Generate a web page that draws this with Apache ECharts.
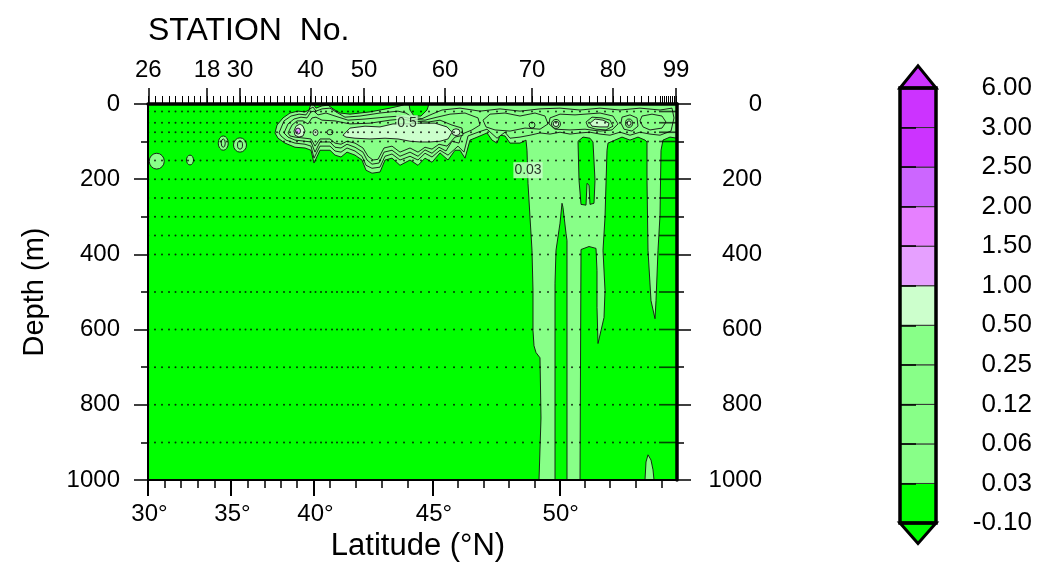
<!DOCTYPE html>
<html>
<head>
<meta charset="utf-8">
<script src="https://cdn.jsdelivr.net/npm/echarts@6/dist/echarts.min.js"></script>
<style>
  html, body { margin: 0; padding: 0; background: #fff; }
  #chart { width: 1044px; height: 566px; }
</style>
</head>
<body>
<div id="chart"></div>
<script>
// ---------------------------------------------------------------
// Section geometry: along-section distance (km) vs depth (m)
// ---------------------------------------------------------------
const sectionLength = 2116;

// Latitude graticule and its along-section distance
const latTicks    = [30, 31, 32, 33, 34, 35, 36, 37, 38, 39, 40, 41, 42, 43, 44, 45, 46, 47, 48, 49, 50, 51, 52, 53, 54];
const latTickDist = [0, 66, 132, 198, 266, 332, 398, 466, 531, 595, 664, 728, 831, 935, 1038, 1138, 1238, 1341, 1444, 1545, 1645, 1745, 1848, 1952, 2054];

// Labelled stations and all occupied stations
const stationLabels    = ['26', '18', '30', '40', '50', '60', '70', '80', '99'];
const stationLabelDist = [1, 236, 368, 650, 864, 1188, 1536, 1860, 2112];
const stationDist = [
  1, 28, 56, 84, 110, 136, 160, 184, 210, 236, 262, 290, 316, 342, 368,
  390, 412, 436, 464, 488, 516, 544, 568, 596, 624, 650,
  670, 692, 712, 736, 756, 776, 800, 820, 840, 864,
  896, 928, 960, 992, 1024, 1060, 1092, 1124, 1156, 1188,
  1224, 1256, 1292, 1328, 1360, 1396, 1432, 1468, 1500, 1536,
  1568, 1600, 1632, 1664, 1696, 1728, 1764, 1796, 1828, 1860,
  1888, 1916, 1944, 1972, 2000, 2028, 2048, 2056, 2064, 2072, 2080, 2088, 2096, 2104, 2112
];
// Bottle / sampling depths (m)
const sampleDepths = [20, 50, 75, 100, 150, 200, 250, 300, 350, 400, 500, 600, 700, 800, 900];

// Contour levels and fill colours of each interval
const levels      = [-0.10, 0.03, 0.06, 0.12, 0.25, 0.50, 1.00, 1.50, 2.00, 2.50, 3.00, 6.00];
const levelColors = ['#00ff00', '#88ff88', '#88ff88', '#88ff88', '#88ff88', '#ccffcc',
                     '#e6a0ff', '#e680ff', '#cc66ff', '#cc33ff', '#cc33ff'];

// ---------------------------------------------------------------
// Closed isolines, vertices as [distance km, depth m]
// ---------------------------------------------------------------
const iso003 = [
  [[508,77],[516,56],[540,37],[568,24],[600,19],[628,21],[644,16],[652,0],[660,0],[672,11],[696,5],[720,3],
   [740,13],[768,24],[808,27],[848,24],[888,21],[928,16],[968,11],[1008,5],[1032,0],[2116,0],[2116,91],
   [2088,88],[2060,96],[2052,123],[2048,296],[2040,389],[2032,523],[2028,571],[2012,523],[2000,389],
   [1996,203],[1996,101],[1988,96],[1960,88],[1928,96],[1896,88],[1868,96],[1840,104],[1836,123],
   [1828,301],[1820,389],[1828,496],[1824,568],[1800,637],[1796,541],[1796,443],[1792,384],[1764,379],
   [1732,387],[1728,1000],[1676,1000],[1676,363],[1672,344],[1660,275],[1656,264],[1648,317],[1632,389],
   [1628,477],[1628,1000],[1564,1000],[1572,835],[1568,675],[1552,661],[1544,643],[1540,603],[1540,496],
   [1536,389],[1528,301],[1520,211],[1516,123],[1512,96],[1488,104],[1448,104],[1428,85],[1408,83],
   [1396,104],[1376,96],[1356,77],[1328,85],[1288,96],[1268,144],[1248,123],[1228,123],[1200,149],
   [1168,130],[1136,155],[1108,144],[1080,163],[1048,149],[1008,163],[976,144],[948,149],[928,181],
   [896,184],[872,176],[856,149],[828,136],[796,128],[772,141],[748,136],[728,123],[688,123],[664,157],
   [652,123],[628,117],[588,115],[548,104],[520,91]],
  [[1988,1000],[1992,952],[2000,933],[2012,947],[2020,973],[2024,1000]]
];
// 0.03 isolines enclosing lower values
const iso003Low = [
  [[1720,99],[1740,88],[1768,91],[1780,101],[1788,203],[1784,264],[1768,267],[1764,216],[1756,211],
   [1752,269],[1732,267],[1724,203]],
  [[1044,0],[1124,0],[1116,16],[1092,32],[1064,32],[1048,16]]
];
const iso006 = [
  [[524,77],[544,45],[572,32],[604,27],[632,29],[648,13],[660,8],[672,19],[696,13],[728,11],[752,21],
   [788,35],[848,32],[928,24],[1000,19],[1032,24],[1056,35],[1096,39],[1136,27],[1176,16],[1248,11],
   [1328,19],[1408,13],[1488,19],[1568,13],[1648,11],[1728,16],[1808,11],[1888,16],[1968,11],[2048,16],
   [2096,11],[2104,37],[2092,72],[2048,83],[2008,80],[1968,75],[1928,83],[1888,75],[1848,83],[1808,80],
   [1768,75],[1728,77],[1688,80],[1648,75],[1608,80],[1568,77],[1528,83],[1488,88],[1448,91],[1428,75],
   [1396,91],[1356,67],[1320,75],[1280,85],[1264,128],[1240,112],[1200,136],[1168,123],[1136,141],
   [1108,131],[1080,149],[1048,139],[1008,149],[976,133],[948,139],[928,168],[896,171],[872,163],
   [856,139],[828,125],[796,117],[772,128],[748,125],[728,112],[688,112],[664,144],[652,112],[628,107],
   [588,104],[552,96],[532,85]]
];
const iso012 = [
  [[544,77],[560,53],[584,40],[612,35],[636,37],[652,21],[664,19],[680,29],[712,24],[748,32],[800,43],
   [868,40],[948,35],[1008,32],[1056,40],[1108,43],[1156,35],[1208,27],[1268,24],[1320,37],[1328,56],
   [1296,69],[1256,80],[1244,104],[1216,99],[1192,125],[1164,115],[1136,131],[1108,122],[1080,139],
   [1048,128],[1008,139],[976,123],[944,128],[924,157],[896,160],[876,149],[860,128],[828,115],
   [796,107],[772,117],[748,115],[728,101],[688,101],[668,128],[652,101],[628,99],[588,96],[560,88]],
  [[1340,43],[1368,27],[1428,24],[1488,32],[1548,24],[1588,32],[1600,53],[1568,67],[1508,64],[1448,72],
   [1388,69],[1352,61]],
  [[1608,37],[1648,27],[1708,29],[1748,27],[1808,24],[1860,32],[1880,53],[1856,69],[1808,72],[1748,67],
   [1688,69],[1628,67],[1604,53]],
  [[1896,35],[1928,29],[1956,37],[1960,59],[1936,72],[1904,67],[1892,51]],
  [[1976,32],[2016,27],[2056,32],[2072,48],[2056,64],[2008,69],[1980,61],[1968,45]]
];
const iso025 = [
  [[560,77],[576,56],[596,45],[620,45],[640,53],[656,37],[672,35],[696,43],[748,45],[808,53],[888,51],
   [968,43],[1016,40],[1056,45],[1120,48],[1168,43],[1216,56],[1256,64],[1260,83],[1228,88],[1196,112],
   [1164,107],[1136,120],[1108,115],[1080,128],[1048,117],[1008,128],[976,112],[944,117],[920,147],
   [900,149],[880,139],[860,117],[828,104],[796,99],[772,107],[748,104],[728,93],[688,93],[668,112],
   [652,93],[628,91],[588,88],[568,85]],
  [[1752,48],[1776,35],[1816,37],[1848,43],[1860,59],[1832,69],[1792,67],[1760,61]]
];
const iso050 = [
  [[780,83],[808,64],[868,59],[928,61],[980,53],[1028,53],[1088,51],[1148,51],[1196,61],[1216,75],
   [1200,93],[1168,99],[1128,101],[1088,101],[1048,99],[1000,93],[948,91],[888,93],[828,91],[792,88]],
  [[584,72],[592,59],[608,53],[620,59],[628,72],[620,85],[604,88],[588,83]],
  [[1768,51],[1788,40],[1820,43],[1844,51],[1840,61],[1808,61],[1776,59]]
];
// Small closed isolines: [distance km, depth m, half-width km, half-height m]
const loops003 = [[35,152,30,21],[168,149,14,13],[301,104,20,19],[368,109,26,19]];
const loops006 = [[301,104,8,11],[368,109,10,11]];
const loops025 = [[1632,53,18,12],[1924,51,14,11],[1536,56,12,8],[728,75,12,7]];
const loops050 = [[1632,53,11,7],[1924,51,8,6],[1232,75,16,9],[670,76,10,8]];
const loops100 = [[600,72,10,8]];

// Contour labels: [distance km, depth m, level]
const isoLabels = [[1036, 51, 0.5], [1520, 176, 0.03]];

// ---------------------------------------------------------------
const FONT = '"Liberation Sans", Arial, Helvetica, sans-serif';

const shapes = [];
function addRings(level, rings, below) { rings.forEach(pts => shapes.push({ level, below: !!below, pts })); }
function addLoops(level, loops) { loops.forEach(e => shapes.push({ level, ell: e })); }
addRings(0.03, iso003); addLoops(0.03, loops003); addRings(0.03, iso003Low, true);
addRings(0.06, iso006); addLoops(0.06, loops006);
addRings(0.12, iso012);
addRings(0.25, iso025); addLoops(0.25, loops025);
addRings(0.50, iso050); addLoops(0.50, loops050);
addLoops(1.00, loops100);

function renderContour(params, api) {
  const s = shapes[params.dataIndex];
  const k = levels.indexOf(s.level);
  const style = { fill: levelColors[s.below ? k - 1 : k], stroke: '#111', lineWidth: 0.9 };
  if (s.ell) {
    const c = api.coord([s.ell[0], s.ell[1]]);
    const sz = api.size([s.ell[2], s.ell[3]]);
    const rx = Math.abs(sz[0]), ry = Math.abs(sz[1]);
    const d = 'M' + (c[0] - rx) + ' ' + c[1] +
              'A' + rx + ' ' + ry + ' 0 1 0 ' + (c[0] + rx) + ' ' + c[1] +
              'A' + rx + ' ' + ry + ' 0 1 0 ' + (c[0] - rx) + ' ' + c[1] + 'Z';
    return { type: 'path', shape: { pathData: d }, style };
  }
  return { type: 'polygon', shape: { points: s.pts.map(p => api.coord(p)) }, style };
}

const dotData = [];
stationDist.forEach(x => sampleDepths.forEach(d => dotData.push([x, d])));

const majorLatDist = latTickDist.filter((d, i) => latTicks[i] % 5 === 0);
const latOf = v => latTicks[latTickDist.indexOf(v)];
const stationOf = v => stationLabels[stationLabelDist.indexOf(v)];

function renderSwatch(params, api) {
  const i = params.dataIndex;
  const p0 = api.coord([0, i + 1]), p1 = api.coord([1, i]);
  return { type: 'rect', shape: { x: p0[0], y: p0[1], width: p1[0] - p0[0], height: p1[1] - p0[1] },
           style: { fill: levelColors[i], stroke: '#333', lineWidth: 1 } };
}
function renderBarFrame(params, api) {
  const n = levels.length - 1;
  const tl = api.coord([0, n]), br = api.coord([1, 0]);
  const topApex = api.coord([0.5, n + 0.56]);
  const botApex = api.coord([0.5, -0.52]);
  return { type: 'group', children: [
    { type: 'polygon', shape: { points: [tl, [br[0], tl[1]], topApex] },
      style: { fill: levelColors[n - 1], stroke: '#000', lineWidth: 3 } },
    { type: 'polygon', shape: { points: [[tl[0], br[1]], br, botApex] },
      style: { fill: levelColors[0], stroke: '#000', lineWidth: 3 } },
    { type: 'rect', shape: { x: tl[0], y: tl[1], width: br[0] - tl[0], height: br[1] - tl[1] },
      style: { fill: 'none', stroke: '#000', lineWidth: 3.5 } }
  ] };
}

const labelFont = { fontFamily: FONT, fontSize: 24, color: '#000' };

const option = {
  animation: false,
  backgroundColor: '#fff',
  textStyle: { fontFamily: FONT },
  grid: [
    { left: 148, top: 104, width: 529, height: 376, show: true, backgroundColor: levelColors[0], borderWidth: 0 },
    { left: 900, top: 88, width: 36, height: 435, show: false }
  ],
  xAxis: [
    { gridIndex: 0, type: 'value', min: 0, max: sectionLength, position: 'bottom', z: 10,
      axisLine: { show: true, onZero: false, lineStyle: { color: '#000', width: 2 } },
      axisTick: { show: true, customValues: majorLatDist, length: 16, lineStyle: { color: '#000', width: 2 } },
      axisLabel: Object.assign({ show: true, customValues: majorLatDist, formatter: v => latOf(v) + '°',
                                 margin: 22, padding: [0, 0, 0, 3] }, labelFont),
      splitLine: { show: false } },
    { gridIndex: 0, type: 'value', min: 0, max: sectionLength, position: 'bottom', z: 10,
      axisLine: { show: false, onZero: false },
      axisTick: { show: true, customValues: latTickDist, length: 8, lineStyle: { color: '#000', width: 1.5 } },
      axisLabel: { show: false }, splitLine: { show: false } },
    { gridIndex: 0, type: 'value', min: 0, max: sectionLength, position: 'top', z: 10,
      axisLine: { show: true, onZero: false, lineStyle: { color: '#000', width: 3.5 } },
      axisTick: { show: true, customValues: stationLabelDist, length: 16, lineStyle: { color: '#000', width: 1.5 } },
      axisLabel: Object.assign({ show: true, customValues: stationLabelDist, formatter: v => stationOf(v),
                                 margin: 22, hideOverlap: false }, labelFont),
      splitLine: { show: false } },
    { gridIndex: 0, type: 'value', min: 0, max: sectionLength, position: 'top', z: 10,
      axisLine: { show: false, onZero: false },
      axisTick: { show: true, customValues: stationDist, length: 8, lineStyle: { color: '#000', width: 1 } },
      axisLabel: { show: false }, splitLine: { show: false } },
    { gridIndex: 1, type: 'value', min: 0, max: 1, show: false }
  ],
  yAxis: [
    { gridIndex: 0, type: 'value', min: 0, max: 1000, interval: 200, inverse: true, position: 'left', z: 10,
      axisLine: { show: true, onZero: false, lineStyle: { color: '#000', width: 2 } },
      axisTick: { show: true, length: 14, lineStyle: { color: '#000', width: 1.5 } },
      minorTick: { show: true, splitNumber: 2, length: 7, lineStyle: { color: '#000', width: 1.5 } },
      axisLabel: Object.assign({ margin: 28, formatter: v => String(v) }, labelFont),
      splitLine: { show: false }, minorSplitLine: { show: false } },
    { gridIndex: 0, type: 'value', min: 0, max: 1000, interval: 200, inverse: true, position: 'right', z: 10,
      axisLine: { show: true, onZero: false, lineStyle: { color: '#000', width: 3.5 } },
      axisTick: { show: true, length: 14, lineStyle: { color: '#000', width: 1.5 } },
      minorTick: { show: true, splitNumber: 2, length: 7, lineStyle: { color: '#000', width: 1.5 } },
      axisLabel: Object.assign({ margin: 85, align: 'right', formatter: v => String(v) }, labelFont),
      splitLine: { show: false }, minorSplitLine: { show: false } },
    { gridIndex: 1, type: 'value', min: 0, max: levels.length - 1, interval: 1, position: 'right', z: 10,
      axisLine: { show: false },
      axisTick: { show: true, length: 16, lineStyle: { color: '#000', width: 1.5 } },
      axisLabel: { formatter: v => levels[v].toFixed(2), align: 'right', margin: 96,
                   fontFamily: FONT, fontSize: 26, color: '#000' },
      splitLine: { show: false } }
  ],
  series: [
    { type: 'custom', name: 'contours', xAxisIndex: 0, yAxisIndex: 0, clip: true, z: 2, silent: true,
      renderItem: renderContour,
      data: shapes.map((s, i) => s.ell ? [s.ell[0], s.ell[1], i] : [s.pts[0][0], s.pts[0][1], i]) },
    { type: 'scatter', name: 'samples', xAxisIndex: 0, yAxisIndex: 0, z: 3, silent: true,
      symbol: 'circle', symbolSize: 2, itemStyle: { color: '#000' }, data: dotData },
    { type: 'scatter', name: 'isoLabels', xAxisIndex: 0, yAxisIndex: 0, z: 4, silent: true,
      symbolSize: 0, data: isoLabels,
      label: { show: true, position: 'inside', formatter: p => String(p.value[2]),
               fontFamily: FONT, fontSize: 14, color: '#000', backgroundColor: '#ccffcc', padding: [1, 1] } },
    { type: 'custom', name: 'colorbar', xAxisIndex: 4, yAxisIndex: 2, z: 2, silent: true,
      renderItem: renderSwatch, data: levelColors.map((c, i) => [0.5, i + 0.5]) },
    { type: 'custom', name: 'colorbarFrame', xAxisIndex: 4, yAxisIndex: 2, z: 3, silent: true,
      renderItem: renderBarFrame, data: [[0.5, 5]] }
  ],
  graphic: [
    { type: 'text', x: 148, y: 31, style: { text: 'STATION  No.', fontFamily: FONT, fontSize: 32, fill: '#000',
      align: 'left', verticalAlign: 'middle' } },
    { type: 'text', x: 418, y: 546, style: { text: 'Latitude (°N)', fontFamily: FONT, fontSize: 31, fill: '#000',
      align: 'center', verticalAlign: 'middle' } },
    { type: 'text', x: 35, y: 292, rotation: Math.PI / 2, style: { text: 'Depth (m)', fontFamily: FONT, fontSize: 29,
      fill: '#000', align: 'center', verticalAlign: 'middle' } }
  ]
};

const chart = echarts.init(document.getElementById('chart'), null, { renderer: 'canvas' });
chart.setOption(option);
</script>
</body>
</html>
